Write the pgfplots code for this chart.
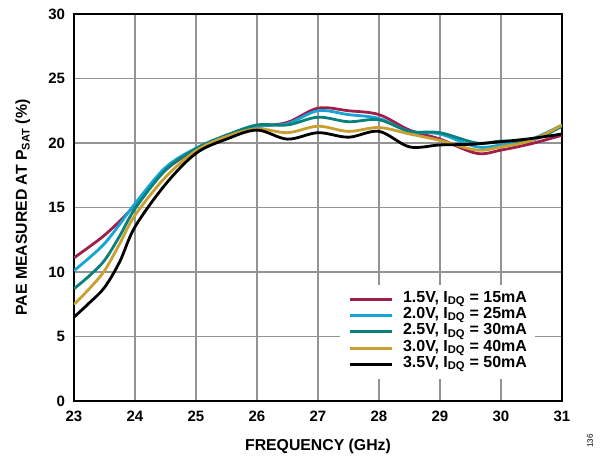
\documentclass[border=0pt]{standalone}
\usepackage{pgfplots}
\pgfplotsset{compat=1.18}
\usepackage{fontspec}
\setmainfont{Liberation Sans}
\definecolor{cred}{RGB}{160,30,75}
\definecolor{cblue}{RGB}{20,165,215}
\definecolor{cteal}{RGB}{10,128,122}
\definecolor{cyel}{RGB}{200,160,50}
\begin{document}
\begin{tikzpicture}
\useasboundingbox (-74pt,-55pt) rectangle (528pt,401pt);
\begin{axis}[
  scale only axis, width=488pt, height=387pt,
  xmin=23, xmax=31, ymin=0, ymax=30,
  xtick={23,...,31}, ytick={0,5,...,30},
  grid=major, grid style={gray!85, line width=1.3pt},
  axis line style={black, line width=1.6pt},
  tick style={draw=none},
  /pgf/number format/assume math mode=true,
  ticklabel style={font=\bfseries\fontsize{15}{17}\selectfont},
  xticklabel style={yshift=-6.5pt},
  yticklabel style={xshift=-5.5pt},
  xlabel={FREQUENCY (GHz)},
  ylabel={PAE MEASURED AT P\textsubscript{SAT} (\%)},
  label style={font=\bfseries\fontsize{15.8}{18}\selectfont},
  xlabel style={at={(axis description cs:0.5,-0.118)}, anchor=center},
  ylabel style={at={(axis description cs:-0.105,0.5)}, anchor=center},
  every axis plot/.append style={line width=2.8pt, smooth, tension=0.55},
  legend style={draw=none, fill=white, inner xsep=8pt, inner ysep=6pt,
    at={(axis description cs:0.945,0.30)}, anchor=north east,
    font=\bfseries\fontsize{16}{16}\selectfont,
    nodes={inner sep=0pt, text height=11pt, text depth=5.3pt},
    column sep=10pt},
  legend cell align=left,
  legend image code/.code={\draw[#1, line width=2.8pt] (0pt,0pt) -- (42pt,0pt);},
]
\addplot[cred] coordinates {(23,11.1)(23.25,11.95)(23.5,12.85)(23.75,13.95)(24,15.2)(24.5,17.9)(25,19.5)(25.5,20.6)(26,21.25)(26.5,21.6)(27,22.7)(27.5,22.5)(28,22.2)(28.5,21.0)(29,20.3)(29.6,19.2)(30,19.45)(30.5,19.95)(31,20.6)};
\addlegendentry{1.5V, I\textsubscript{DQ} = 15mA}
\addplot[cblue] coordinates {(23,10.1)(23.25,11.1)(23.5,12.2)(23.75,13.7)(24,15.3)(24.5,18.1)(25,19.6)(25.5,20.6)(26,21.3)(26.5,21.5)(27,22.5)(27.5,22.2)(28,21.9)(28.5,20.9)(29,20.7)(29.6,19.7)(30,19.85)(30.5,20.3)(31,21.4)};
\addlegendentry{2.0V, I\textsubscript{DQ} = 25mA}
\addplot[cteal] coordinates {(23,8.7)(23.25,9.7)(23.5,10.9)(23.75,12.8)(24,14.9)(24.5,17.9)(25,19.55)(25.5,20.6)(26,21.4)(26.5,21.4)(27,22.0)(27.5,21.65)(28,21.8)(28.5,20.9)(29,20.8)(29.6,20.0)(30,20.15)(30.5,20.2)(31,21.3)};
\addlegendentry{2.5V, I\textsubscript{DQ} = 30mA}
\addplot[cyel] coordinates {(23,7.5)(23.25,8.7)(23.5,10.1)(23.75,12.2)(24,14.4)(24.5,17.35)(25,19.4)(25.5,20.5)(26,21.1)(26.5,20.8)(27,21.3)(27.5,20.9)(28,21.2)(28.5,20.7)(29,20.2)(29.6,19.45)(30,19.7)(30.5,20.2)(31,21.4)};
\addlegendentry{3.0V, I\textsubscript{DQ} = 40mA}
\addplot[black] coordinates {(23,6.5)(23.25,7.6)(23.5,8.8)(23.75,10.8)(24,13.5)(24.5,16.8)(25,19.2)(25.5,20.3)(26,21.0)(26.5,20.3)(27,20.8)(27.5,20.45)(28,20.9)(28.5,19.7)(29,19.85)(29.5,19.9)(30,20.1)(30.5,20.35)(31,20.7)};
\addlegendentry{3.5V, I\textsubscript{DQ} = 50mA}
\end{axis}
\node[rotate=90, font=\fontsize{8}{9}\selectfont, anchor=center] at (516pt,-40pt) {136};
\end{tikzpicture}
\end{document}
